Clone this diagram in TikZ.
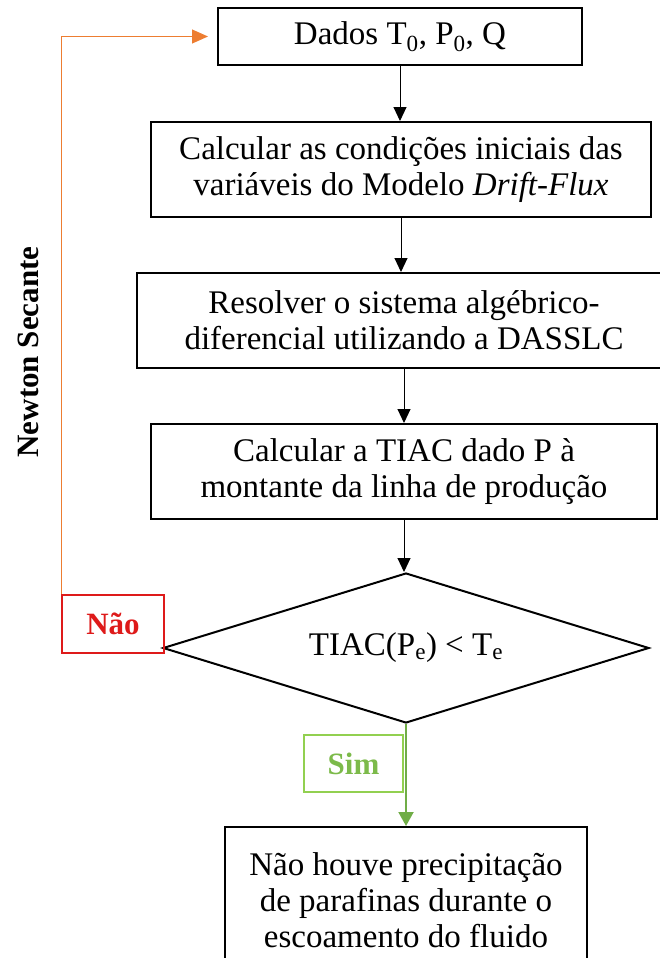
\documentclass[tikz,border=0pt]{standalone}
\usepackage{fontspec}
\setmainfont{Liberation Serif}
\usetikzlibrary{shapes.geometric,arrows.meta}
\definecolor{loopor}{RGB}{237,125,49}
\definecolor{noRed}{RGB}{222,26,26}
\definecolor{yesGreen}{RGB}{146,208,80}
\definecolor{yesText}{RGB}{124,186,74}
\definecolor{yesArrow}{RGB}{112,173,71}
\tikzset{
  stepbox/.style={draw=black, line width=2pt, rectangle, inner sep=0pt,
    align=center, font=\fontsize{33}{36}\selectfont},
  flow/.style={draw=black, line width=1pt, -{Triangle[length=14pt,width=13pt]}},
  tagbox/.style={rectangle, line width=2pt, inner sep=0pt,
    font=\fontsize{31}{36}\selectfont\bfseries},
}
\begin{document}
\begin{tikzpicture}[x=1pt, y=-1pt]
\useasboundingbox (0,0) rectangle (659,958);

% process boxes
\node[stepbox, minimum width=364pt, minimum height=57pt] (b1) at (400,36.5)
  {Dados T\textsubscript{0}, P\textsubscript{0}, Q};
\node[stepbox, minimum width=500pt, minimum height=95pt] (b2) at (401,169.5)
  {Calcular as condições iniciais das\\variáveis do Modelo \textit{Drift-Flux}};
\node[stepbox, minimum width=534pt, minimum height=95pt] (b3) at (404,320.5)
  {Resolver o sistema algébrico-\\diferencial utilizando a DASSLC};
\node[stepbox, minimum width=506pt, minimum height=95pt] (b4) at (404,471.5)
  {Calcular a TIAC dado P à\\montante da linha de produção};

% decision
\node[diamond, draw=black, line width=2pt, minimum width=486pt, minimum height=150pt,
  aspect=3.24, inner sep=0pt, font=\fontsize{33}{36}\selectfont] (d) at (406,648)
  {TIAC(P\textsubscript{e}) < T\textsubscript{e}};

% final result
\node[stepbox, minimum width=362pt, minimum height=146pt] (end) at (406,900)
  {Não houve precipitação\\de parafinas durante o\\escoamento do fluido};

% branch labels
\node[tagbox, draw=noRed, text=noRed, minimum width=102pt, minimum height=58pt] (nao) at (113,624) {Não};
\node[tagbox, draw=yesGreen, text=yesText, minimum width=99pt, minimum height=57pt] (sim) at (353.5,763.5) {Sim};

% loop label
\node[rotate=90, font=\fontsize{31}{36}\selectfont\bfseries] (ns) at (28,352) {Newton Secante};

% main flow
\draw[flow] (b1.south) -- (b1.south |- b2.north);
\draw[flow] (b2.south) -- (b2.south |- b3.north);
\draw[flow] (b3.south) -- (b3.south |- b4.north);
\draw[flow] (b4.south) -- (b4.south |- d.north);

% yes branch
\draw[draw=yesArrow, line width=2pt, -{Triangle[length=14pt,width=15pt]}] (d.south) -- (d.south |- end.north);

% iteration loop back to the inputs
\coordinate (loopTop) at (nao.north west);
\draw[draw=loopor, line width=1pt, shorten >=9pt, -{Triangle[length=16pt,width=14pt]}]
  (loopTop) |- (b1.west);
\end{tikzpicture}
\end{document}
